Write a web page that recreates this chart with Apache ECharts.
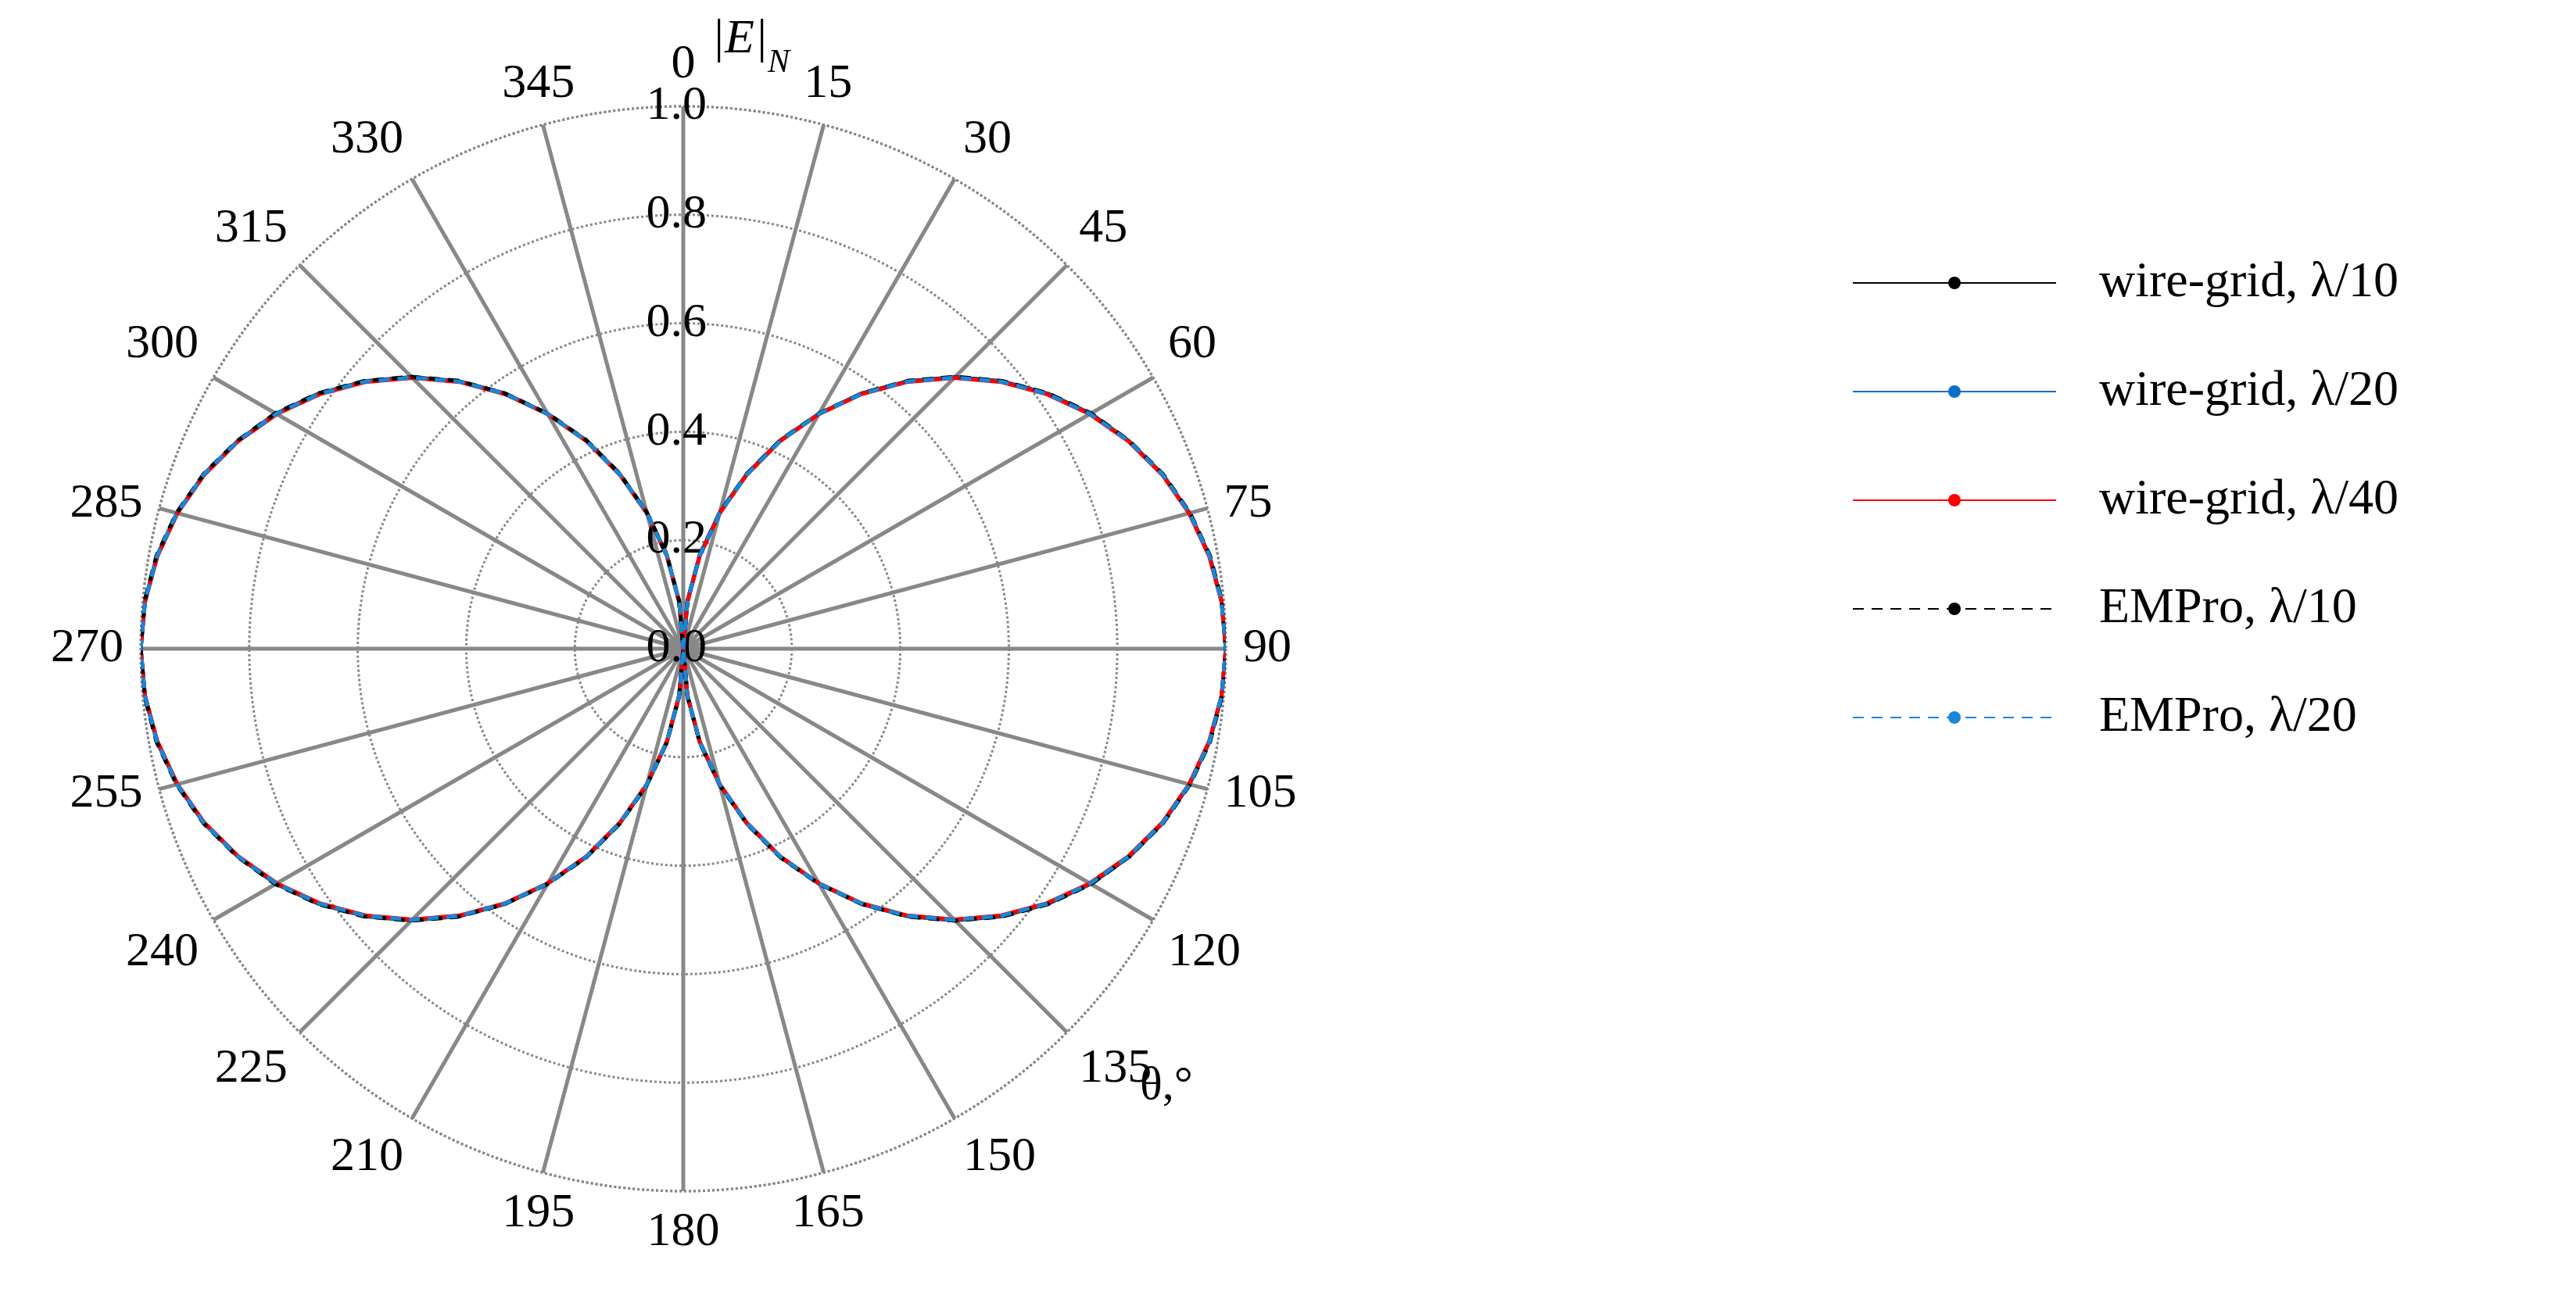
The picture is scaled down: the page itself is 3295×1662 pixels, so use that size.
<!DOCTYPE html>
<html><head><meta charset="utf-8">
<script src="https://cdn.jsdelivr.net/npm/echarts@6/dist/echarts.min.js"></script>
<style>html,body{margin:0;padding:0;background:#fff}#c{width:3295px;height:1662px}</style>
</head><body><div id="c"></div>
<script>
const angles = [0,5,10,15,20,25,30,35,40,45,50,55,60,65,70,75,80,85,90,95,100,105,110,115,120,125,130,135,140,145,150,155,160,165,170,175,180,185,190,195,200,205,210,215,220,225,230,235,240,245,250,255,260,265,270,275,280,285,290,295,300,305,310,315,320,325,330,335,340,345,350,355,360];
const wg10 = [0,0.088,0.175,0.26,0.343,0.424,0.5,0.575,0.644,0.708,0.767,0.82,0.867,0.906,0.94,0.966,0.985,0.996,1.0,0.996,0.985,0.966,0.94,0.907,0.867,0.82,0.767,0.708,0.644,0.575,0.5,0.424,0.343,0.26,0.175,0.088,0,0.088,0.175,0.26,0.343,0.424,0.5,0.575,0.644,0.708,0.767,0.82,0.867,0.906,0.94,0.966,0.985,0.996,1.0,0.996,0.985,0.966,0.94,0.906,0.867,0.82,0.767,0.708,0.644,0.575,0.5,0.424,0.343,0.26,0.175,0.088,0];
const wg20 = [0,0.087,0.174,0.259,0.342,0.423,0.5,0.574,0.643,0.707,0.766,0.819,0.866,0.906,0.94,0.966,0.985,0.996,1.0,0.996,0.985,0.966,0.94,0.906,0.866,0.819,0.766,0.707,0.643,0.574,0.5,0.423,0.342,0.259,0.174,0.087,0,0.087,0.174,0.259,0.342,0.423,0.5,0.574,0.643,0.707,0.766,0.819,0.866,0.906,0.94,0.966,0.985,0.996,1.0,0.996,0.985,0.966,0.94,0.906,0.866,0.819,0.766,0.707,0.643,0.574,0.5,0.423,0.342,0.259,0.174,0.087,0];
const wg40 = [0,0.086,0.173,0.258,0.341,0.422,0.499,0.573,0.642,0.706,0.765,0.818,0.865,0.905,0.939,0.965,0.984,0.996,1.0,0.996,0.984,0.965,0.939,0.905,0.865,0.818,0.765,0.706,0.642,0.573,0.499,0.422,0.341,0.258,0.173,0.086,0,0.086,0.173,0.258,0.341,0.422,0.499,0.573,0.642,0.706,0.765,0.818,0.865,0.905,0.939,0.965,0.984,0.996,1.0,0.996,0.984,0.965,0.939,0.905,0.865,0.818,0.765,0.706,0.642,0.573,0.499,0.422,0.341,0.258,0.173,0.086,0];
const em10 = [0,0.088,0.176,0.261,0.344,0.425,0.501,0.575,0.645,0.709,0.768,0.821,0.868,0.907,0.941,0.967,0.986,0.997,1.0,0.997,0.986,0.967,0.941,0.907,0.868,0.821,0.768,0.709,0.645,0.575,0.501,0.425,0.344,0.261,0.176,0.088,0,0.088,0.176,0.261,0.344,0.425,0.501,0.575,0.645,0.709,0.768,0.821,0.868,0.907,0.941,0.967,0.986,0.997,1.0,0.997,0.986,0.967,0.941,0.907,0.868,0.821,0.768,0.709,0.645,0.575,0.501,0.425,0.344,0.261,0.176,0.088,0];
const em20 = [0,0.087,0.174,0.259,0.342,0.423,0.5,0.574,0.643,0.707,0.766,0.819,0.866,0.906,0.94,0.966,0.985,0.996,1.0,0.996,0.985,0.966,0.94,0.906,0.866,0.819,0.766,0.707,0.643,0.574,0.5,0.423,0.342,0.259,0.174,0.087,0,0.087,0.174,0.259,0.342,0.423,0.5,0.574,0.643,0.707,0.766,0.819,0.866,0.906,0.94,0.966,0.985,0.996,1.0,0.996,0.985,0.966,0.94,0.906,0.866,0.819,0.766,0.707,0.643,0.574,0.5,0.423,0.342,0.259,0.174,0.087,0];
const names = ['wire-grid, λ/10','wire-grid, λ/20','wire-grid, λ/40','EMPro, λ/10','EMPro, λ/20'];
const FONT = '"Liberation Serif", "DejaVu Serif", serif';
const pairs = v => v.map((r,i)=>[r, angles[i]]);
const mk = (name, vals, color, type) => ({
  name, type:'line', coordinateSystem:'polar', data: pairs(vals), symbol:'none', showSymbol:false,
  lineStyle:{color, width:5, type}, itemStyle:{color}
});
const chart = echarts.init(document.getElementById('c'));
chart.setOption({
  animation:false,
  backgroundColor:'#fff',
  polar:{center:[874,830], radius:694},
  angleAxis:{type:'value', min:0, max:360, interval:15, startAngle:90, clockwise:true,
    axisLine:{lineStyle:{color:'#888', type:'dotted', width:3}},
    axisTick:{show:false},
    axisLabel:{fontFamily:FONT, fontSize:62, color:'#000', margin:22,
      formatter:v=> v===360?'':String(v)},
    splitLine:{show:true, lineStyle:{color:'#888', width:5, type:'solid'}}},
  radiusAxis:{type:'value', min:0, max:1, interval:0.2,
    axisLine:{show:false}, axisTick:{show:false},
    axisLabel:{fontFamily:FONT, fontSize:62, color:'#000', margin:-30, formatter:v=>v.toFixed(1), verticalAlign:'middle'},
    splitLine:{show:true, lineStyle:{color:'#888', width:3, type:'dotted'}}},
  legend:{orient:'vertical', left:2364, top:325, itemWidth:260, itemHeight:20, itemGap:75,
    textStyle:{fontFamily:FONT, fontSize:64, color:'#000', padding:[0,0,0,50]},
    data:names},
  graphic:[
    {type:'text', left:910, top:20, style:{text:'|E|', font:'italic 62px '+FONT, fill:'#000'}},
    {type:'text', left:982, top:60, style:{text:'N', font:'italic 42px '+FONT, fill:'#000'}},
    {type:'text', left:1458, top:1360, style:{text:'θ,°', font:'60px '+FONT, fill:'#000'}}
  ],
  series:[
    mk(names[0], wg10, '#000000', 'solid'),
    mk(names[1], wg20, '#0a6fc8', 'solid'),
    mk(names[2], wg40, '#ff0000', 'solid'),
    mk(names[3], em10, '#000000', [14,10]),
    mk(names[4], em20, '#1a86d8', [14,10])
  ]
});
</script></body></html>
